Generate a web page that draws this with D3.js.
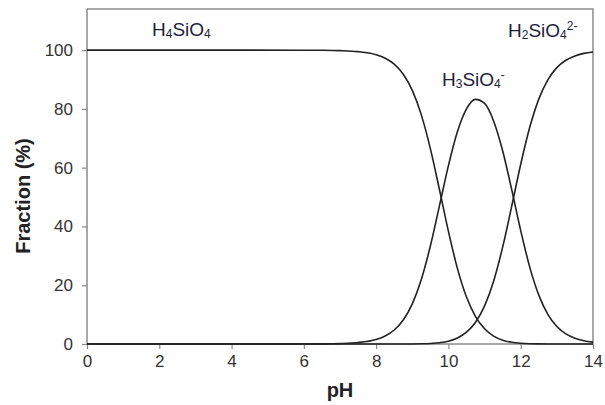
<!DOCTYPE html>
<html>
<head>
<meta charset="utf-8">
<script src="https://cdn.jsdelivr.net/npm/d3@7"></script>
<style>
  html, body { margin: 0; padding: 0; background: #fff; }
  svg { display: block; }
</style>
</head>
<body>
<svg id="chart" width="605" height="405"></svg>
<script>
// pH values at which the curves were read
const pH = [0, 2, 4, 6, 6.5, 7, 7.5, 8, 8.25, 8.5, 8.75, 9, 9.25, 9.5, 9.75, 10, 10.25, 10.5, 10.75,
            11, 11.25, 11.5, 11.75, 12, 12.25, 12.5, 12.75, 13, 13.25, 13.5, 13.75, 14];
// Fraction (%) of each species
const h4sio4 = [100, 100, 100, 99.98, 99.95, 99.84, 99.50, 98.44, 97.26, 95.23, 91.81, 86.30, 77.97, 66.50, 52.65,
                38.31, 25.66, 15.97, 9.34, 5.17, 2.69, 1.31, 0.59, 0.24, 0.09, 0.03, 0.01, 0, 0, 0, 0, 0];
const h3sio4 = [0, 0, 0, 0.02, 0.05, 0.16, 0.50, 1.56, 2.74, 4.77, 8.18, 13.68, 21.97, 33.33, 46.93,
                60.72, 72.31, 80.02, 83.24, 81.86, 75.91, 65.74, 52.56, 38.59, 26.16, 16.63, 10.09, 5.93, 3.43, 1.96, 1.11, 0.63];
const h2sio4 = [0, 0, 0, 0, 0, 0, 0, 0, 0, 0, 0.01, 0.02, 0.06, 0.17, 0.42,
                0.96, 2.04, 4.01, 7.42, 12.97, 21.39, 32.95, 46.85, 61.16, 73.74, 83.34, 89.90, 94.06, 96.57, 98.04, 98.89, 99.37];
const xTicks = [0, 2, 4, 6, 8, 10, 12, 14];
const yTicks = [0, 20, 40, 60, 80, 100];

const svg = d3.select("#chart");
const m = { left: 87, right: 593, top: 9, bottom: 344 };
const x = d3.scaleLinear().domain([0, 14]).range([m.left, m.right]);
const y = d3.scaleLinear().domain([0, 114]).range([m.bottom, m.top]);

const axisColor = "#8a8a8a";
const font = "Liberation Sans, Arial, Helvetica, sans-serif";

// frame (top and right)
svg.append("path")
  .attr("d", `M${m.left},${m.top}H${m.right}V${m.bottom}`)
  .attr("fill", "none").attr("stroke", axisColor).attr("stroke-width", 1.5);

// x axis
const gx = svg.append("g").attr("transform", `translate(0,${m.bottom})`)
  .call(d3.axisBottom(x).tickValues(xTicks).tickSize(5).tickPadding(6).tickSizeOuter(0));
// y axis
const gy = svg.append("g").attr("transform", `translate(${m.left},0)`)
  .call(d3.axisLeft(y).tickValues(yTicks).tickSize(5).tickPadding(9).tickSizeOuter(0));

[gx, gy].forEach(g => {
  g.select(".domain").attr("stroke", axisColor).attr("stroke-width", 1.5);
  g.selectAll(".tick line").attr("stroke", axisColor).attr("stroke-width", 1.2);
  g.selectAll(".tick text").attr("fill", "#333").style("font-family", font).style("font-size", "17px");
});
gx.select(".domain").attr("d", `M${m.left},0H${m.right}`);
gy.select(".domain").attr("d", `M0,${m.top}V${m.bottom}`);

// curves
const series = [h4sio4, h3sio4, h2sio4];
const line = d3.line()
  .x((d, i) => x(pH[i]))
  .y(d => y(d))
  .curve(d3.curveMonotoneX);
svg.append("g").selectAll("path").data(series).join("path")
  .attr("d", d => line(d))
  .attr("fill", "none").attr("stroke", "#222").attr("stroke-width", 1.6);

// axis titles
svg.append("text")
  .attr("x", (m.left + m.right) / 2).attr("y", 397)
  .attr("text-anchor", "middle")
  .style("font-family", font).style("font-size", "20px").style("font-weight", "bold")
  .attr("fill", "#222").text("pH");
svg.append("text")
  .attr("transform", `translate(30,196) rotate(-90)`)
  .attr("text-anchor", "middle")
  .style("font-family", font).style("font-size", "20px").style("font-weight", "bold")
  .attr("fill", "#222").text("Fraction (%)");

// species labels
function label(xp, yp, parts) {
  const t = svg.append("text").attr("x", xp).attr("y", yp)
    .style("font-family", font).style("font-size", "19px").attr("fill", "#1e1e3a");
  parts.forEach(([s, kind]) => {
    const ts = t.append("tspan").text(s);
    if (kind === "sub") ts.style("font-size", "12px").attr("dy", 2);
    else if (kind === "sup") ts.style("font-size", "12px").attr("dy", -9);
    else if (kind === "back-sub") ts.attr("dy", -2);
  });
}
label(152, 36, [["H", ""], ["4", "sub"], ["SiO", "back-sub"], ["4", "sub"]]);
label(442, 86, [["H", ""], ["3", "sub"], ["SiO", "back-sub"], ["4", "sub"], ["-", "sup"]]);
label(508, 37, [["H", ""], ["2", "sub"], ["SiO", "back-sub"], ["4", "sub"], ["2-", "sup"]]);
</script>
</body>
</html>
